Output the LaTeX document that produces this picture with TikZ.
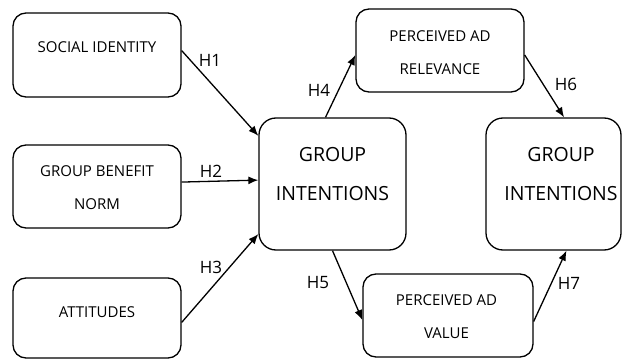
\documentclass[tikz,border=0pt]{standalone}
\usepackage{fontspec}
\setmainfont{Open Sans}
\usetikzlibrary{arrows.meta}
\begin{document}
\begin{tikzpicture}[x=1pt, y=1pt,
  box/.style={draw, line width=1.3pt, rounded corners=13pt, minimum width=168pt, minimum height=83pt, inner sep=0pt},
  bigbox/.style={box, rounded corners=17pt, minimum width=147pt, minimum height=132pt},
  txt/.style={align=center, font=\fontsize{15}{33}\selectfont},
  bigtxt/.style={align=center, font=\fontsize{19.5}{39}\selectfont},
  hyp/.style={font=\fontsize{17}{20}\selectfont},
  arr/.style={line width=1.3pt, -{Latex[length=10pt, width=8pt]}}]
  \useasboundingbox (0,0) rectangle (622,360);
  % antecedents
  \node[box, minimum height=84pt] (si) at (97,305) {};
  \node[box] (gbn) at (97,173.5) {};
  \node[box, minimum height=80pt] (att) at (97,42) {};
  \node[txt] (sit) at (97,313) {SOCIAL IDENTITY};
  \node[txt] (gbnt) at (97,172) {GROUP BENEFIT\\NORM};
  \node[txt] (attt) at (97,47.5) {ATTITUDES};
  % intentions and mediators
  \node[bigbox] (gi1) at (332.5,176) {};
  \node[bigbox, minimum width=135pt] (gi2) at (553.5,176) {};
  \node[box] (par) at (440,309.5) {};
  \node[box, minimum width=170pt] (pav) at (448,44.5) {};
  \node[bigtxt] (gi1t) at (332.5,186) {GROUP\\INTENTIONS};
  \node[bigtxt] (gi2t) at (561,186) {GROUP\\INTENTIONS};
  \node[txt] (part) at (440,307.5) {PERCEIVED AD\\RELEVANCE};
  \node[txt] (pavt) at (446.5,43) {PERCEIVED AD\\VALUE};
  % paths
  \draw[arr] (si.3) -- (gi1.147);
  \draw[arr] (gbn.3) -- (gi1.177);
  \draw[arr] (att.-3) -- (gi1.214);
  \draw[arr] (gi1.96) -- (par.183);
  \draw[arr] (gi1.south) -- (pav.183);
  \draw[arr] (par.-3) -- (gi2.81);
  \draw[arr] (pav.-4) -- (gi2.-79);
  \node[hyp] (h1) at (210,300) {H1};
  \node[hyp] (h2) at (211,189) {H2};
  \node[hyp] (h3) at (211,93) {H3};
  \node[hyp] (h4) at (319,270) {H4};
  \node[hyp] (h5) at (318,77) {H5};
  \node[hyp] (h6) at (566,276) {H6};
  \node[hyp] (h7) at (569,77) {H7};
\end{tikzpicture}
\end{document}
